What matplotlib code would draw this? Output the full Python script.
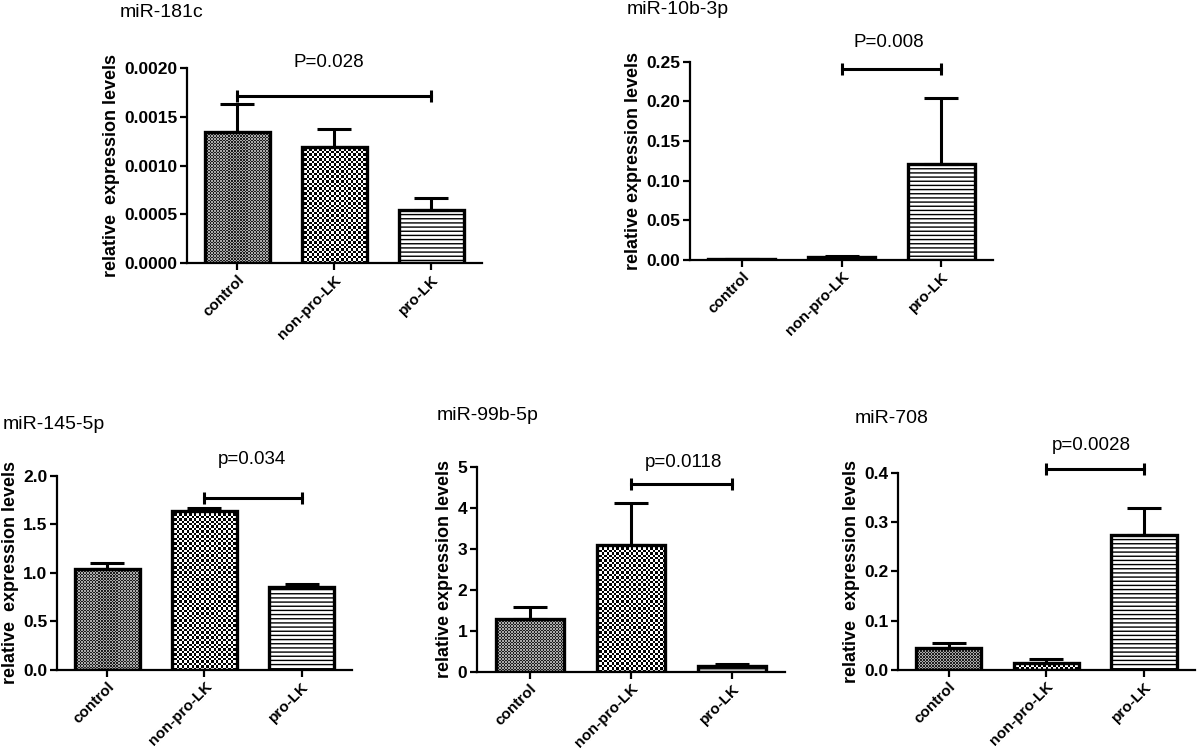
import numpy as np
import matplotlib
matplotlib.use('Agg')
import matplotlib.pyplot as plt
from matplotlib.colors import ListedColormap
from matplotlib.ticker import FormatStrFormatter, MultipleLocator

plt.rcParams['font.family'] = ['Liberation Sans', 'DejaVu Sans']
plt.rcParams['hatch.linewidth'] = 1.0

groups = ['control', 'non-pro-LK', 'pro-LK']

# mean and upper error (SEM) per group
mir181c_mean = [0.00134, 0.00119, 0.00054]
mir181c_err = [0.00029, 0.00018, 0.00013]

mir10b_mean = [0.0015, 0.0040, 0.1206]
mir10b_err = [0.0003, 0.0012, 0.0833]

mir145_mean = [1.04, 1.636, 0.853]
mir145_err = [0.06, 0.03, 0.03]

mir99b_mean = [1.28, 3.10, 0.15]
mir99b_err = [0.31, 1.03, 0.04]

mir708_mean = [0.045, 0.0148, 0.274]
mir708_err = [0.009, 0.007, 0.055]

panels = [
    # title, mean, err, ymax, ystep, fmt, ylabel, (i, j, y), (ptext, x, y), axes rect, title pos
    ('miR-181c', mir181c_mean, mir181c_err, 0.002, 0.0005, '%.4f',
     'relative  expression levels', (0, 2, 0.00171), ('P=0.028', 0.94, 0.00206),
     [0.1558, 0.6521, 0.2458, 0.2579], (0.100, 0.983)),
    ('miR-10b-3p', mir10b_mean, mir10b_err, 0.25, 0.05, '%.2f',
     'relative expression levels', (1, 2, 0.2408), ('P=0.008', 1.47, 0.2736),
     [0.575, 0.6561, 0.2525, 0.2623], (0.5225, 0.987)),
    ('miR-145-5p', mir145_mean, mir145_err, 2.0, 0.5, '%.1f',
     'relative  expression levels', (1, 2, 1.776), ('p=0.034', 1.49, 2.165),
     [0.0475, 0.1138, 0.2458, 0.2566], (0.0025, 0.438)),
    ('miR-99b-5p', mir99b_mean, mir99b_err, 5, 1, '%d',
     'relative expression levels', (1, 2, 4.58), ('p=0.0118', 1.52, 5.105),
     [0.3975, 0.1115, 0.2567, 0.2704], (0.364, 0.451)),
    ('miR-708', mir708_mean, mir708_err, 0.4, 0.1, '%.1f',
     'relative  expression levels', (1, 2, 0.407), ('p=0.0028', 1.46, 0.456),
     [0.7483, 0.1138, 0.2475, 0.261], (0.7125, 0.447)),
]


def checker_fill(ax, bar, cell, dark, light):
    """Fill a bar with a checkerboard texture clipped to the bar outline"""
    bb = bar.get_window_extent()
    nx = max(1, int(round(bb.width / cell)))
    ny = max(1, int(round(bb.height / cell)))
    grid = np.add.outer(np.arange(ny), np.arange(nx)) % 2
    x0, y0 = bar.get_x(), bar.get_y()
    im = ax.imshow(grid, cmap=ListedColormap([light, dark]), vmin=0, vmax=1,
                   extent=(x0, x0 + bar.get_width(), y0, y0 + bar.get_height()),
                   interpolation='nearest', aspect='auto', origin='lower', zorder=2)
    im.set_clip_path(bar)


fig = plt.figure(figsize=(12, 7.56), dpi=100)
x = np.arange(len(groups))

for (title, mean, err, ymax, ystep, fmt, ylabel, sig, ptxt, rect, tpos) in panels:
    ax = fig.add_axes(rect)
    ax.set_xlim(-0.52, 2.52)
    ax.set_ylim(0, ymax)

    bars = ax.bar(x, mean, width=0.67, facecolor='none', edgecolor='black',
                  linewidth=2.4, zorder=3)
    bars[2].set_facecolor('white')
    bars[2].set_hatch('----')
    bars[2].set_zorder(2.5)

    checker_fill(ax, bars[0], 1.5, '#1e1e1e', '#aaaaaa')
    checker_fill(ax, bars[1], 2.4, 'black', 'white')

    ax.errorbar(x, mean, yerr=[np.zeros(len(mean)), err], fmt='none',
                ecolor='black', elinewidth=2.2, capsize=12.5, capthick=2.2, zorder=4)

    # significance bracket
    i, j, ys = sig
    ax.plot([x[i], x[j]], [ys, ys], color='black', lw=2.2, clip_on=False, zorder=5)
    ax.plot([x[i], x[j]], [ys, ys], ls='none', marker='|', ms=9, mew=2.2,
            color='black', clip_on=False, zorder=5)
    ax.text(ptxt[1], ptxt[2], ptxt[0], ha='center', va='center', fontsize=13.5)

    ax.set_xlim(-0.52, 2.52)
    ax.set_ylim(0, ymax)
    ax.yaxis.set_major_locator(MultipleLocator(ystep))
    ax.yaxis.set_major_formatter(FormatStrFormatter(fmt))
    ax.set_xticks(x)
    ax.set_xticklabels(groups, rotation=45, ha='right', rotation_mode='anchor',
                       fontweight='bold', fontsize=11)
    for lab in ax.get_yticklabels():
        lab.set_fontweight('bold')
        lab.set_fontsize(12.5)
    ax.set_ylabel(ylabel, fontweight='bold', fontsize=13, labelpad=3)
    ax.tick_params(direction='out', length=5, width=1.6, pad=2)

    for s in ['top', 'right']:
        ax.spines[s].set_visible(False)
    for s in ['left', 'bottom']:
        ax.spines[s].set_linewidth(1.6)

    fig.text(tpos[0], tpos[1], title, ha='left', va='center', fontsize=14)

plt.savefig('out.png', dpi=100)
